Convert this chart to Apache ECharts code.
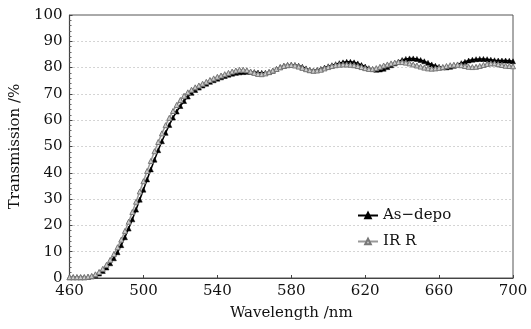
<!DOCTYPE html>
<html>
<head>
<meta charset="utf-8">
<script src="https://cdn.jsdelivr.net/npm/echarts@6/dist/echarts.min.js"></script>
<style>
  html, body { margin: 0; padding: 0; background: #fff; }
  #chart { width: 531px; height: 329px; }
</style>
</head>
<body>
<div id="chart"></div>
<script>
// sampled every 2 nm from 460 to 700
var wlStart = 460, wlStep = 2;
var asDepo = [
  0.3, 0.3, 0.3, 0.3, 0.3, 0.4, 0.6, 1.0, 1.7, 2.7,
  4.0, 5.6, 7.5, 9.8, 12.5, 15.5, 18.8, 22.3, 26.0, 29.8,
  33.6, 37.5, 41.3, 45.0, 48.6, 52.0, 55.2, 58.2, 61.0, 63.3,
  65.4, 67.3, 69.0, 70.4, 71.5, 72.4, 73.2, 73.9, 74.6, 75.2,
  75.8, 76.3, 76.8, 77.3, 77.7, 78.0, 78.2, 78.3, 78.4, 78.4,
  78.3, 78.1, 78.0, 78.0, 78.3, 78.8, 79.5, 80.2, 80.7, 81.0,
  81.1, 81.0, 80.7, 80.3, 79.7, 79.1, 78.9, 79.1, 79.5, 80.0,
  80.5, 80.9, 81.3, 81.7, 82.0, 82.2, 82.2, 82.0, 81.6, 81.0,
  80.4, 79.8, 79.4, 79.2, 79.3, 79.6, 80.2, 80.9, 81.6, 82.3,
  82.9, 83.3, 83.5, 83.5, 83.3, 82.9, 82.4, 81.8, 81.2, 80.7,
  80.3, 80.1, 80.1, 80.3, 80.7, 81.2, 81.7, 82.2, 82.7, 83.0,
  83.2, 83.3, 83.3, 83.2, 83.0, 82.8, 82.7, 82.7, 82.7, 82.6,
  82.4
];
var irR = [
  0.3, 0.3, 0.3, 0.3, 0.3, 0.5, 0.8, 1.4, 2.3, 3.5,
  5.0, 6.9, 9.1, 11.7, 14.6, 17.9, 21.4, 25.1, 29.0, 32.9,
  36.8, 40.7, 44.5, 48.2, 51.7, 55.0, 58.1, 60.9, 63.5, 65.8,
  67.7, 69.3, 70.6, 71.6, 72.5, 73.2, 73.9, 74.6, 75.3, 75.9,
  76.5, 77.0, 77.5, 78.0, 78.5, 78.9, 79.2, 79.2, 79.0, 78.5,
  78.0, 77.6, 77.5, 77.8, 78.3, 78.9, 79.5, 80.1, 80.6, 80.9,
  81.0, 80.8, 80.4, 79.9, 79.4, 79.0, 78.8, 78.9, 79.2, 79.7,
  80.2, 80.6, 80.9, 81.1, 81.2, 81.2, 81.1, 80.9, 80.6, 80.2,
  79.8, 79.5, 79.5, 79.8, 80.3, 80.8, 81.2, 81.6, 81.9, 82.1,
  82.1, 81.9, 81.6, 81.2, 80.8, 80.4, 80.0, 79.7, 79.6, 79.7,
  79.9, 80.2, 80.6, 80.9, 81.1, 81.1, 80.9, 80.6, 80.3, 80.2,
  80.3, 80.6, 81.0, 81.4, 81.6, 81.6, 81.3, 81.0, 80.7, 80.6,
  80.5, 80.2, 79.5
];
var legendNames = ['As\u2212depo', 'IR R'];

function pairs(vals) {
  return vals.map(function (v, i) { return [wlStart + i * wlStep, v]; });
}

var serif = '"DejaVu Serif", "Liberation Serif", serif';
var chart = echarts.init(document.getElementById('chart'));
chart.setOption({
  animation: false,
  backgroundColor: '#fff',
  grid: {
    left: 63, right: 18, top: 15, bottom: 51,
    show: true, borderColor: '#555', borderWidth: 1
  },
  legend: {
    orient: 'vertical',
    left: 352, top: 203,
    itemWidth: 20, itemHeight: 7, itemGap: 11,
    textStyle: { fontFamily: serif, fontSize: 15, color: '#111' },
    data: legendNames
  },
  xAxis: {
    type: 'value', min: 460, max: 700, interval: 40,
    name: 'Wavelength /nm', nameLocation: 'middle', nameGap: 28,
    nameTextStyle: { fontFamily: serif, fontSize: 15, color: '#111' },
    axisLine: { lineStyle: { color: '#444', width: 1.2 } },
    axisTick: { inside: true, length: 3, lineStyle: { color: '#444' } },
    axisLabel: { fontFamily: serif, fontSize: 15, color: '#111', margin: 6 },
    splitLine: { show: false }
  },
  yAxis: {
    type: 'value', min: 0, max: 100, interval: 10,
    name: 'Transmission /%', nameLocation: 'middle', nameGap: 38,
    nameTextStyle: { fontFamily: serif, fontSize: 15, color: '#111' },
    axisLine: { show: true, lineStyle: { color: '#444', width: 1.2 } },
    axisTick: { show: true, inside: true, length: 3, lineStyle: { color: '#444' } },
    minorTick: { show: true, splitNumber: 5, length: 2, lineStyle: { color: '#666' } },
    axisLabel: { fontFamily: serif, fontSize: 15, color: '#111', margin: 7 },
    splitLine: { show: true, lineStyle: { color: '#aaa', type: [1, 3], width: 1 } }
  },
  series: [
    {
      name: legendNames[0],
      type: 'line',
      data: pairs(asDepo),
      symbol: 'triangle',
      symbolSize: 5,
      showAllSymbol: true,
      lineStyle: { color: '#000', width: 1.5 },
      itemStyle: { color: '#000', borderColor: '#000', borderWidth: 0.5 },
      z: 2
    },
    {
      name: legendNames[1],
      type: 'line',
      data: pairs(irR),
      symbol: 'triangle',
      symbolSize: 5,
      showAllSymbol: true,
      lineStyle: { color: '#999', width: 1.5 },
      itemStyle: { color: '#ccc', borderColor: '#777', borderWidth: 1 },
      z: 3
    }
  ]
});
</script>
</body>
</html>
